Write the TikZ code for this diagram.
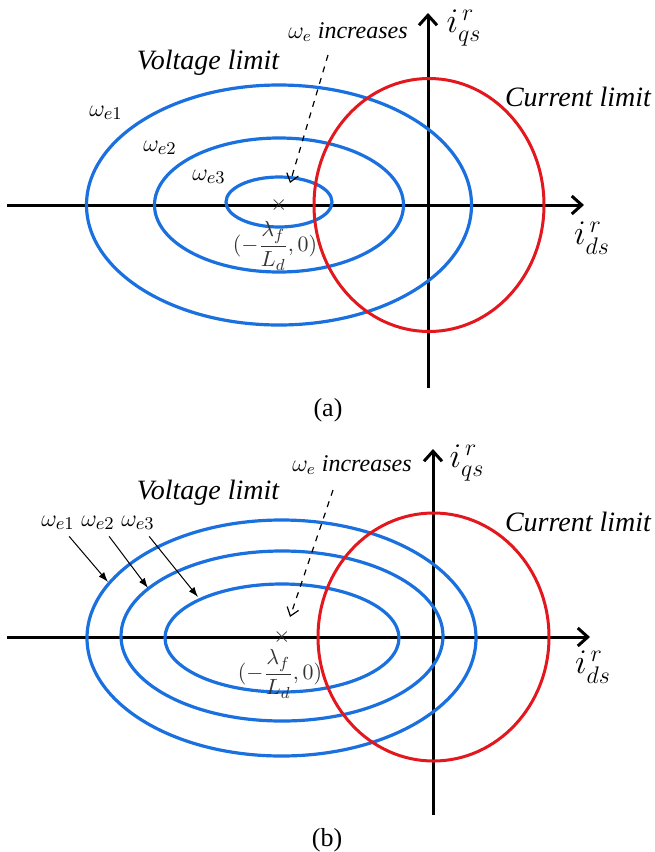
\documentclass[tikz,border=0pt]{standalone}
\usepackage{amsmath}
\usepackage{fontspec}
\setmainfont{Liberation Serif}
\usetikzlibrary{positioning,arrows.meta}

\definecolor{voltblue}{RGB}{25,112,222}
\definecolor{currred}{RGB}{226,24,30}

\begin{document}
\begin{tikzpicture}[
			x=0.5pt, y=-0.5pt,
			>=Latex,
			axis/.style={line width=1.5pt,
				-{Straight Barb[length=5pt,width=9pt,line width=1.5pt]}},
			volt/.style={draw=voltblue, line width=1.6pt},
			curr/.style={draw=currred, line width=1.5pt},
			lbl/.style={inner sep=0pt, font=\fontsize{14}{16}\selectfont\itshape},
			inc/.style={inner sep=0pt, font=\fontsize{12}{14}\selectfont\itshape},
			ax/.style={inner sep=0pt, font=\fontsize{17}{19}\selectfont},
			wlbl/.style={inner sep=0pt, font=\fontsize{13}{15}\selectfont},
			ctrtxt/.style={inner sep=0pt, text=black!80, font=\fontsize{11}{12}\selectfont},
			captxt/.style={inner sep=0pt, font=\fontsize{13}{15}\selectfont},
			incr/.style={dashed, line width=0.6pt,
				-{Straight Barb[length=4pt,width=6pt]}},
			tag/.style={line width=0.5pt, -{Latex[length=5pt,width=3.5pt]}}
			]
			
			\useasboundingbox (0,0) rectangle (654,852);
			
			%%%%%%%%%%%%%%%%%%%%%%%%%%%%%%%%%%%%%%%%%%%%%%%%%%%%%%%%%%%%
			% (a) Axes
			%%%%%%%%%%%%%%%%%%%%%%%%%%%%%%%%%%%%%%%%%%%%%%%%%%%%%%%%%%%%
			
			\coordinate (xa0) at (7,205);
			\coordinate (xa1) at (584,205);
			\coordinate (ya0) at (428,388);
			\coordinate (ya1) at (428,13);
			
			\draw[axis] (xa0) -- (xa1);
			\draw[axis] (ya0) -- (ya1);
			
			\node (idsa) [ax] at (592,238) {$i_{ds}^{\,r}$};
			\node (iqsa) [ax] at (464,28) {$i_{qs}^{\,r}$};
			
			%%%%%%%%%%%%%%%%%%%%%%%%%%%%%%%%%%%%%%%%%%%%%%%%%%%%%%%%%%%%
			% (a) Limits
			%%%%%%%%%%%%%%%%%%%%%%%%%%%%%%%%%%%%%%%%%%%%%%%%%%%%%%%%%%%%
			
			\draw[volt] (279,205) ellipse [x radius=192.5, y radius=120];
			\draw[volt] (279,205) ellipse [x radius=124.5, y radius=67];
			\draw[volt] (279,202) ellipse [x radius=53, y radius=25];
			
			\draw[curr] (429,205) ellipse [x radius=115, y radius=126.5];
			
			%%%%%%%%%%%%%%%%%%%%%%%%%%%%%%%%%%%%%%%%%%%%%%%%%%%%%%%%%%%%
			% (a) Labels
			%%%%%%%%%%%%%%%%%%%%%%%%%%%%%%%%%%%%%%%%%%%%%%%%%%%%%%%%%%%%
			
			\node (volta) [lbl] at (208,63) {Voltage limit};
			\node (curra) [lbl] at (578,97) {Current limit};
			\node (inca) [inc] at (348,32) {$\omega_e$ increases};
			
			\node (w1a) [wlbl] at (106,113) {$\omega_{e1}$};
			\node (w2a) [wlbl] at (160,148) {$\omega_{e2}$};
			\node (w3a) [wlbl] at (209,177) {$\omega_{e3}$};
			
			\node (ctra) [ctrtxt] at (279,205) {$\times$};
			\node (lama) [ctrtxt] at (275,246) {$(-\dfrac{\lambda_f}{L_d},0)$};
			
			\coordinate (inca0) at (328,55);
			\coordinate (inca1) at (290,183);
			\draw[incr] (inca0) -- (inca1);
			
			\node (capa) [captxt] at (328,410) {(a)};
			
			%%%%%%%%%%%%%%%%%%%%%%%%%%%%%%%%%%%%%%%%%%%%%%%%%%%%%%%%%%%%
			% (b) Axes
			%%%%%%%%%%%%%%%%%%%%%%%%%%%%%%%%%%%%%%%%%%%%%%%%%%%%%%%%%%%%
			
			\coordinate (xb0) at (7,637);
			\coordinate (xb1) at (590,637);
			\coordinate (yb0) at (433,815);
			\coordinate (yb1) at (433,449);
			
			\draw[axis] (xb0) -- (xb1);
			\draw[axis] (yb0) -- (yb1);
			
			\node (idsb) [ax] at (593,667) {$i_{ds}^{\,r}$};
			\node (iqsb) [ax] at (467,463) {$i_{qs}^{\,r}$};
			
			%%%%%%%%%%%%%%%%%%%%%%%%%%%%%%%%%%%%%%%%%%%%%%%%%%%%%%%%%%%%
			% (b) Limits
			%%%%%%%%%%%%%%%%%%%%%%%%%%%%%%%%%%%%%%%%%%%%%%%%%%%%%%%%%%%%
			
			\draw[volt] (281.5,638) ellipse [x radius=194.5, y radius=118];
			\draw[volt] (282,636) ellipse [x radius=161, y radius=85];
			\draw[volt] (282,638) ellipse [x radius=117, y radius=54];
			
			\draw[curr] (433.5,637) ellipse [x radius=115.5, y radius=124];
			
			%%%%%%%%%%%%%%%%%%%%%%%%%%%%%%%%%%%%%%%%%%%%%%%%%%%%%%%%%%%%
			% (b) Labels
			%%%%%%%%%%%%%%%%%%%%%%%%%%%%%%%%%%%%%%%%%%%%%%%%%%%%%%%%%%%%
			
			\node (voltb) [lbl] at (208,493) {Voltage limit};
			\node (currb) [lbl] at (578,522) {Current limit};
			\node (incb) [inc] at (352,465) {$\omega_e$ increases};
			
			\node (w1b) [wlbl] at (58,523) {$\omega_{e1}$};
			\node (w2b) [wlbl] at (98,523) {$\omega_{e2}$};
			\node (w3b) [wlbl] at (138,523) {$\omega_{e3}$};
			
			\node (ctrb) [ctrtxt] at (282,637) {$\times$};
			\node (lamb) [ctrtxt] at (280,674) {$(-\dfrac{\lambda_f}{L_d},0)$};
			
			\coordinate (incb0) at (333,490);
			\coordinate (incb1) at (290,617);
			\draw[incr] (incb0) -- (incb1);
			
			% pointers to the curves
			
			\coordinate (p1b) at (108,582);
			\coordinate (p2b) at (148,588);
			\coordinate (p3b) at (198,597);
			
			\draw[tag] ([xshift=-3pt,yshift=-3pt]w1b.south east) -- (p1b);
			\draw[tag] ([xshift=-3pt,yshift=-3pt]w2b.south east) -- (p2b);
			\draw[tag] ([xshift=-3pt,yshift=-3pt]w3b.south east) -- (p3b);
			
			\node (capb) [captxt] at (327,840) {(b)};
			
			%%%%%%%%%%%%%%%%%%%%%%%%%%%%%%%%%%%%%%%%%%%%%%%%%%%%%%%%%%%%
			
		\end{tikzpicture}
\end{document}
